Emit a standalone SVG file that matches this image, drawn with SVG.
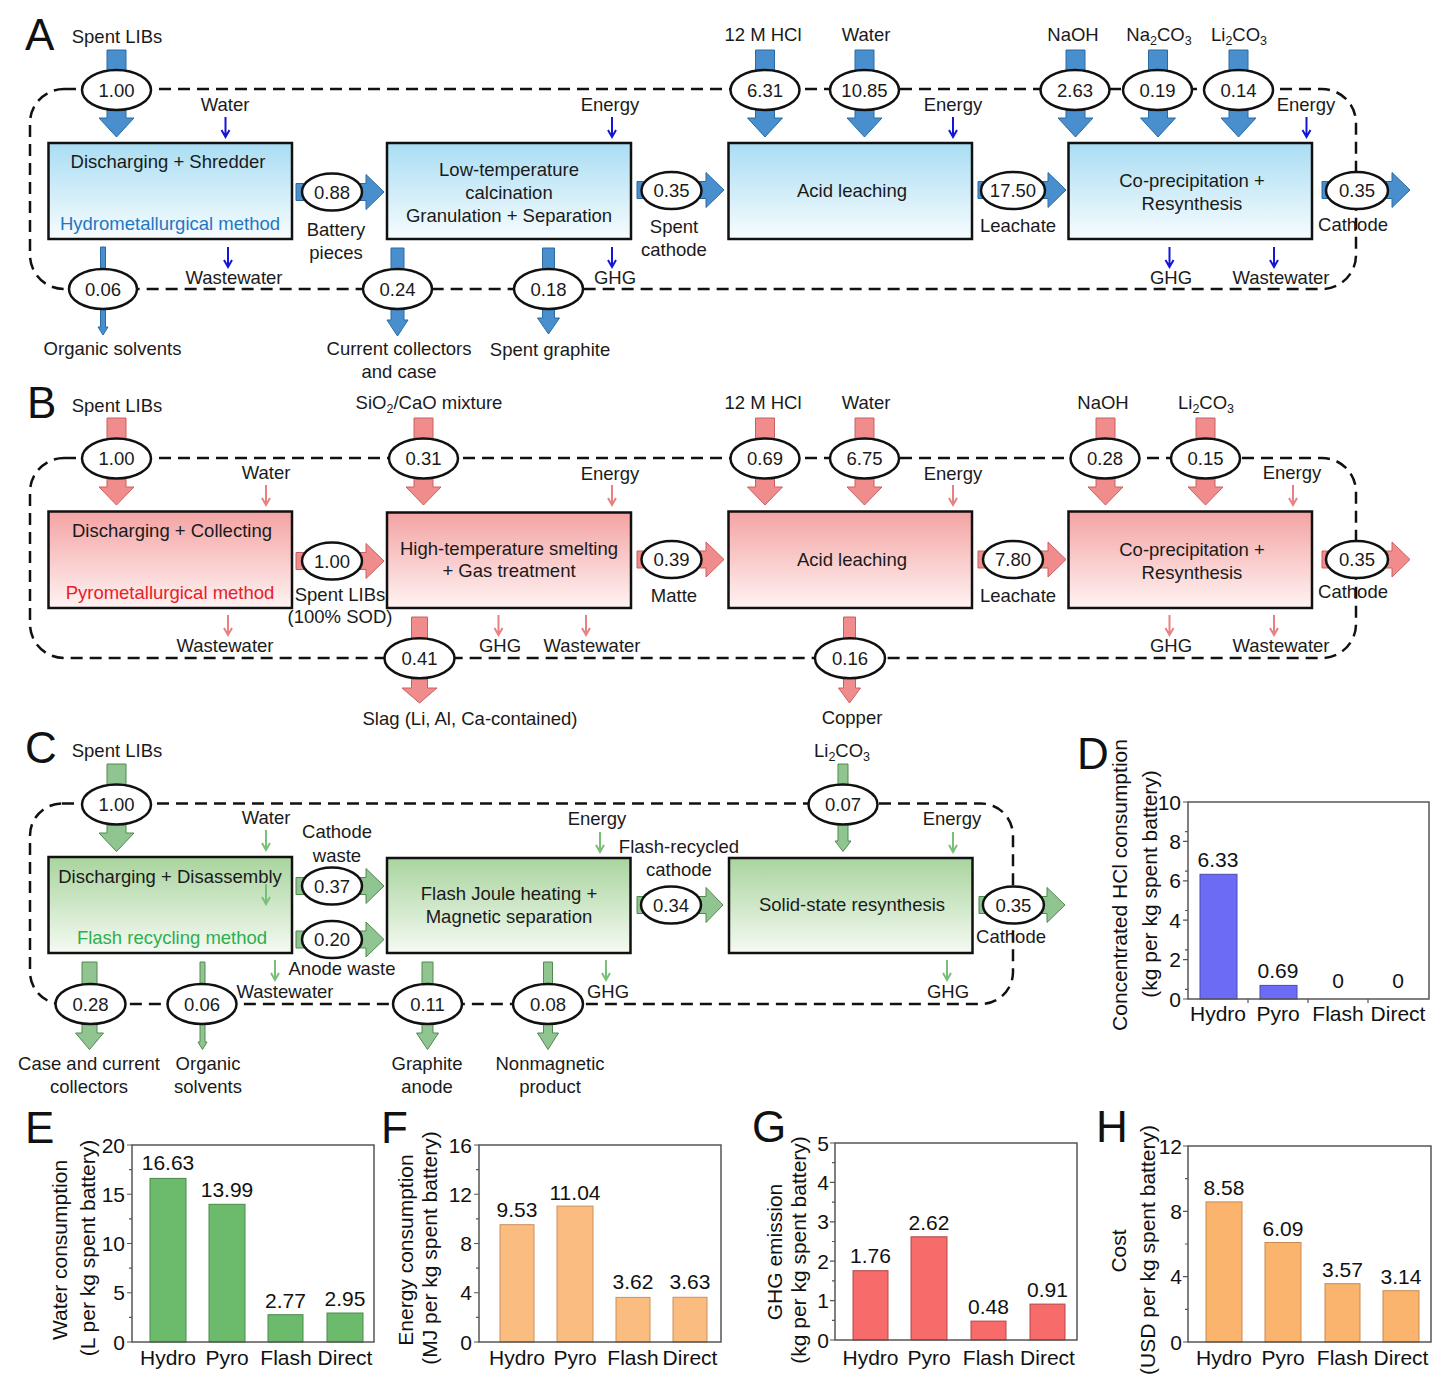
<svg xmlns="http://www.w3.org/2000/svg" xmlns:xlink="http://www.w3.org/1999/xlink" width="1438" height="1384" viewBox="0 0 1438 1384">
<style>
text{font-family:"Liberation Sans",Arial,Helvetica,sans-serif;fill:#1a1a1a}
.t{font-size:18.5px;text-anchor:middle}
.L{font-size:44px;text-anchor:start;fill:#111}
.ax{font-size:21px;text-anchor:middle;fill:#111}
.ay{font-size:21px;text-anchor:end;fill:#111}
.dash{fill:none;stroke:#111;stroke-width:2.5;stroke-dasharray:12 7}
.ell{fill:#fff;stroke:#111;stroke-width:2.5}
.box{stroke:#111;stroke-width:2.5}
.aA{fill:#4a8fcd;stroke:#2a6aa3;stroke-width:1}
.aB{fill:#f08c8c;stroke:#c86060;stroke-width:1}
.aC{fill:#90c490;stroke:#4f8a4f;stroke-width:1}
.sA{stroke:#1515d6;fill:none;stroke-width:2}
.sB{stroke:#e88282;fill:none;stroke-width:2}
.sC{stroke:#78c078;fill:none;stroke-width:2}
.frame{fill:none;stroke:#555;stroke-width:1.5}
.tk{stroke:#555;stroke-width:1.2}
.barD{fill:#6b6bf5;stroke:#4a4ab0;stroke-width:1}
.barE{fill:#6cba6c;stroke:#4a8a4a;stroke-width:1}
.barF{fill:#fbbc80;stroke:#c89060;stroke-width:1}
.barG{fill:#f76b6b;stroke:#b04848;stroke-width:1}
.barH{fill:#fbb46e;stroke:#c88a50;stroke-width:1}
</style>
<defs>
<linearGradient id="gA" x1="0" y1="0" x2="0" y2="1"><stop offset="0" stop-color="#a9ddf3"/><stop offset="1" stop-color="#f7fcfe"/></linearGradient>
<linearGradient id="gB" x1="0" y1="0" x2="0" y2="1"><stop offset="0" stop-color="#f4a3a3"/><stop offset="1" stop-color="#fff3f3"/></linearGradient>
<linearGradient id="gC" x1="0" y1="0" x2="0" y2="1"><stop offset="0" stop-color="#a9d49e"/><stop offset="1" stop-color="#f5faf3"/></linearGradient>
<path id="sa" d="M0,0 V20 M-4,13 L0,20 L4,13"/>
</defs>

<!-- Panel labels -->
<text class="L" x="25" y="50">A</text>
<text class="L" x="27" y="418">B</text>
<text class="L" x="25" y="763">C</text>
<text class="L" x="1077" y="769">D</text>
<text class="L" x="25" y="1143">E</text>
<text class="L" x="381" y="1143">F</text>
<text class="L" x="752" y="1142">G</text>
<text class="L" x="1096" y="1142">H</text>

<!-- ===== Connectors ===== -->
<g id="connectors">
<!-- system boundaries -->
<rect class="dash" x="30" y="89" width="1326" height="200" rx="34"/>
<rect class="dash" x="30" y="458" width="1326" height="200" rx="34"/>
<rect class="dash" x="30" y="803.5" width="983" height="200.5" rx="32"/>

<!-- A arrows -->
<g class="aA">
<path d="M107,50 H126 V118 H134 L116.5,137 L99,118 H107 Z"/>
<path d="M755.5,50 H774.5 V118 H782.5 L765,137 L747.5,118 H755.5 Z"/>
<path d="M855,50 H874 V118 H882 L864.5,137 L847,118 H855 Z"/>
<path d="M1066,50 H1085 V118 H1093 L1075.5,137 L1058,118 H1066 Z"/>
<path d="M1148.5,50 H1167.5 V118 H1175.5 L1158,137 L1140.5,118 H1148.5 Z"/>
<path d="M1229,50 H1248 V118 H1256 L1238.5,137 L1221,118 H1229 Z"/>
<path d="M100.5,247 H105.5 V327 H108 L103,335 L98,327 H100.5 Z"/>
<path d="M391,248 H404 V320 H408 L397.5,336 L387,320 H391 Z"/>
<path d="M542.5,248 H554.5 V318 H559.5 L548.5,334 L537.5,318 H542.5 Z"/>
<path d="M296,183.5 H366 V174.5 L384,192 L366,209.5 V200.5 H296 Z"/>
<path d="M637,181.5 H706 V172.5 L724,190 L706,207.5 V198.5 H637 Z"/>
<path d="M978,181.5 H1048 V172.5 L1066,190 L1048,207.5 V198.5 H978 Z"/>
<path d="M1322,181.5 H1392 V172.5 L1410,190 L1392,207.5 V198.5 H1322 Z"/>
</g>
<g class="sA">
<use xlink:href="#sa" x="225.5" y="117"/>
<use xlink:href="#sa" x="228" y="247"/>
<use xlink:href="#sa" x="612" y="117"/>
<use xlink:href="#sa" x="612" y="247"/>
<use xlink:href="#sa" x="953" y="117"/>
<use xlink:href="#sa" x="1306.5" y="117"/>
<use xlink:href="#sa" x="1169.5" y="247"/>
<use xlink:href="#sa" x="1274" y="247"/>
</g>

<!-- B arrows -->
<g class="aB">
<path d="M107,418 H126 V487 H134 L116.5,505 L99,487 H107 Z"/>
<path d="M414,418 H433 V487 H441 L423.5,505 L406,487 H414 Z"/>
<path d="M755.5,418 H774.5 V487 H782.5 L765,505 L747.5,487 H755.5 Z"/>
<path d="M855,418 H874 V487 H882 L864.5,505 L847,487 H855 Z"/>
<path d="M1096,418 H1115 V487 H1123 L1105.5,505 L1088,487 H1096 Z"/>
<path d="M1196,418 H1215 V487 H1223 L1205.5,505 L1188,487 H1196 Z"/>
<path d="M411.5,617 H427.5 V688 H437 L419.5,703 L402,688 H411.5 Z"/>
<path d="M843.5,617 H855.5 V688 H860.5 L849.5,703 L838.5,688 H843.5 Z"/>
<path d="M296,552.5 H366 V543.5 L384,561 L366,578.5 V569.5 H296 Z"/>
<path d="M637,551 H706 V542 L724,559.5 L706,577 V568 H637 Z"/>
<path d="M978,551 H1048 V542 L1066,559.5 L1048,577 V568 H978 Z"/>
<path d="M1322,551 H1392 V542 L1410,559.5 L1392,577 V568 H1322 Z"/>
</g>
<g class="sB">
<use xlink:href="#sa" x="266" y="485"/>
<use xlink:href="#sa" x="228" y="615"/>
<use xlink:href="#sa" x="612" y="485"/>
<use xlink:href="#sa" x="498.5" y="615"/>
<use xlink:href="#sa" x="586" y="615"/>
<use xlink:href="#sa" x="953" y="485"/>
<use xlink:href="#sa" x="1293" y="485"/>
<use xlink:href="#sa" x="1169.5" y="615"/>
<use xlink:href="#sa" x="1274" y="615"/>
</g>

<!-- C arrows -->
<g class="aC">
<path d="M107,764 H126 V833 H134 L116.5,851.5 L99,833 H107 Z"/>
<path d="M838,764 H848 V841 H851 L843,851.5 L835,841 H838 Z"/>
<path d="M82,962 H97 V1033 H103.5 L89.5,1049.5 L75.5,1033 H82 Z"/>
<path d="M200,962 H205 V1042 H207 L202.5,1049.5 L198,1042 H200 Z"/>
<path d="M422,962 H433 V1033 H438.5 L427.5,1049.5 L416.5,1033 H422 Z"/>
<path d="M543.5,962 H552.5 V1033 H558.5 L548,1049.5 L537.5,1033 H543.5 Z"/>
<path d="M296,877.5 H366 V868.5 L384,886 L366,903.5 V894.5 H296 Z"/>
<path d="M296,931 H366 V922 L384,939.5 L366,957 V948 H296 Z"/>
<path d="M637,896.5 H706 V887.5 L723,905 L706,922.5 V913.5 H637 Z"/>
<path d="M979,896.5 H1047 V887.5 L1065,905 L1047,922.5 V913.5 H979 Z"/>
</g>
<g class="sC">
<use xlink:href="#sa" x="266" y="830"/>
<use xlink:href="#sa" x="275" y="960"/>
<use xlink:href="#sa" x="600" y="832"/>
<use xlink:href="#sa" x="606" y="960"/>
<use xlink:href="#sa" x="953" y="832"/>
<use xlink:href="#sa" x="947" y="960"/>
</g>
</g>

<!-- ===== Flow value ellipses ===== -->
<g id="flows">
<g class="ell">
<ellipse cx="116.5" cy="90" rx="34.5" ry="20"/>
<ellipse cx="765" cy="90" rx="34.5" ry="20"/>
<ellipse cx="864.5" cy="90" rx="34.5" ry="20"/>
<ellipse cx="1075" cy="90" rx="34.5" ry="20"/>
<ellipse cx="1157.5" cy="90" rx="34.5" ry="20"/>
<ellipse cx="1238.5" cy="90" rx="34.5" ry="20"/>
<ellipse cx="103" cy="289" rx="34" ry="20"/>
<ellipse cx="397.5" cy="289" rx="34.5" ry="20"/>
<ellipse cx="548.5" cy="289" rx="34.5" ry="20"/>
<ellipse cx="332" cy="192" rx="30" ry="18.5"/>
<ellipse cx="671.5" cy="190.5" rx="30" ry="18.5"/>
<ellipse cx="1013" cy="190.5" rx="32" ry="18.5"/>
<ellipse cx="1357" cy="190.5" rx="31" ry="18.5"/>

<ellipse cx="116.5" cy="458.5" rx="34.5" ry="20"/>
<ellipse cx="423.5" cy="458.5" rx="34.5" ry="20"/>
<ellipse cx="765" cy="458.5" rx="34.5" ry="20"/>
<ellipse cx="864.5" cy="458.5" rx="34.5" ry="20"/>
<ellipse cx="1105" cy="458.5" rx="34.5" ry="20"/>
<ellipse cx="1205.5" cy="458.5" rx="34.5" ry="20"/>
<ellipse cx="419.5" cy="658.3" rx="35" ry="20"/>
<ellipse cx="850" cy="658.3" rx="35" ry="20"/>
<ellipse cx="332" cy="561" rx="30" ry="18.5"/>
<ellipse cx="671.5" cy="559.5" rx="30" ry="18.5"/>
<ellipse cx="1013" cy="559.5" rx="30" ry="18.5"/>
<ellipse cx="1357" cy="559.5" rx="31" ry="18.5"/>

<ellipse cx="116.5" cy="804.5" rx="34.5" ry="20"/>
<ellipse cx="843" cy="804.5" rx="34.5" ry="20"/>
<ellipse cx="90.5" cy="1004" rx="35" ry="20"/>
<ellipse cx="202" cy="1004" rx="34.5" ry="20"/>
<ellipse cx="427.5" cy="1004" rx="34.5" ry="20"/>
<ellipse cx="548" cy="1004" rx="35" ry="20"/>
<ellipse cx="332" cy="886" rx="30" ry="18.5"/>
<ellipse cx="332" cy="939.5" rx="30" ry="18.5"/>
<ellipse cx="671" cy="905" rx="30" ry="18.5"/>
<ellipse cx="1013.4" cy="905" rx="30.5" ry="18.5"/>
</g>
<g class="t">
<text class="t" x="116.5" y="96.5">1.00</text>
<text class="t" x="765" y="96.5">6.31</text>
<text class="t" x="864.5" y="96.5">10.85</text>
<text class="t" x="1075" y="96.5">2.63</text>
<text class="t" x="1157.5" y="96.5">0.19</text>
<text class="t" x="1238.5" y="96.5">0.14</text>
<text class="t" x="103" y="295.5">0.06</text>
<text class="t" x="397.5" y="295.5">0.24</text>
<text class="t" x="548.5" y="295.5">0.18</text>
<text class="t" x="332" y="198.5">0.88</text>
<text class="t" x="671.5" y="197">0.35</text>
<text class="t" x="1013" y="197">17.50</text>
<text class="t" x="1357" y="197">0.35</text>

<text class="t" x="116.5" y="465">1.00</text>
<text class="t" x="423.5" y="465">0.31</text>
<text class="t" x="765" y="465">0.69</text>
<text class="t" x="864.5" y="465">6.75</text>
<text class="t" x="1105" y="465">0.28</text>
<text class="t" x="1205.5" y="465">0.15</text>
<text class="t" x="419.5" y="664.8">0.41</text>
<text class="t" x="850" y="664.8">0.16</text>
<text class="t" x="332" y="567.5">1.00</text>
<text class="t" x="671.5" y="566">0.39</text>
<text class="t" x="1013" y="566">7.80</text>
<text class="t" x="1357" y="566">0.35</text>

<text class="t" x="116.5" y="811">1.00</text>
<text class="t" x="843" y="811">0.07</text>
<text class="t" x="90.5" y="1010.5">0.28</text>
<text class="t" x="202" y="1010.5">0.06</text>
<text class="t" x="427.5" y="1010.5">0.11</text>
<text class="t" x="548" y="1010.5">0.08</text>
<text class="t" x="332" y="892.5">0.37</text>
<text class="t" x="332" y="946">0.20</text>
<text class="t" x="671" y="911.5">0.34</text>
<text class="t" x="1013.4" y="911.5">0.35</text>
</g>
</g>

<!-- ===== Process nodes ===== -->
<g id="A-discharging">
<rect class="box" x="48.5" y="143" width="243.5" height="96" fill="url(#gA)"/>
<text class="t" x="168" y="168">Discharging + Shredder</text>
<text class="t" x="170" y="230" style="fill:#1f77c4">Hydrometallurgical method</text>
</g>
<g id="A-calcination">
<rect class="box" x="387" y="143" width="244" height="96" fill="url(#gA)"/>
<text class="t" x="509" y="176">Low-temperature</text>
<text class="t" x="509" y="199">calcination</text>
<text class="t" x="509" y="222">Granulation + Separation</text>
</g>
<g id="A-leaching">
<rect class="box" x="728.5" y="143" width="243.5" height="96" fill="url(#gA)"/>
<text class="t" x="852" y="197">Acid leaching</text>
</g>
<g id="A-resynthesis">
<rect class="box" x="1068.5" y="143" width="243.5" height="96" fill="url(#gA)"/>
<text class="t" x="1192" y="187">Co-precipitation +</text>
<text class="t" x="1192" y="209.5">Resynthesis</text>
</g>

<g id="B-discharging">
<rect class="box" x="48.5" y="511.5" width="243.5" height="96.5" fill="url(#gB)"/>
<text class="t" x="172" y="537">Discharging + Collecting</text>
<text class="t" x="170" y="598.5" style="fill:#e8202a">Pyrometallurgical method</text>
</g>
<g id="B-smelting">
<rect class="box" x="387" y="512.5" width="244" height="95.5" fill="url(#gB)"/>
<text class="t" x="509" y="554.5">High-temperature smelting</text>
<text class="t" x="509" y="577">+ Gas treatment</text>
</g>
<g id="B-leaching">
<rect class="box" x="728.5" y="511.5" width="243.5" height="96.5" fill="url(#gB)"/>
<text class="t" x="852" y="565.5">Acid leaching</text>
</g>
<g id="B-resynthesis">
<rect class="box" x="1068.5" y="511.5" width="243.5" height="96.5" fill="url(#gB)"/>
<text class="t" x="1192" y="556">Co-precipitation +</text>
<text class="t" x="1192" y="578.5">Resynthesis</text>
</g>

<g id="C-discharging">
<rect class="box" x="48.5" y="857" width="243.5" height="96" fill="url(#gC)"/>
<text class="t" x="170" y="883">Discharging + Disassembly</text>
<text class="t" x="172" y="943.5" style="fill:#2fae4f">Flash recycling method</text>
</g>
<g class="sC"><use xlink:href="#sa" x="266" y="884"/></g>
<g id="C-flash">
<rect class="box" x="387" y="858" width="243.5" height="95" fill="url(#gC)"/>
<text class="t" x="509" y="899.5">Flash Joule heating +</text>
<text class="t" x="509" y="923">Magnetic separation</text>
</g>
<g id="C-solid">
<rect class="box" x="729" y="858" width="243.5" height="95" fill="url(#gC)"/>
<text class="t" x="852" y="910.5">Solid-state resynthesis</text>
</g>

<!-- ===== Flow labels ===== -->
<g id="labels-A">
<text class="t" x="117" y="43">Spent LIBs</text>
<text class="t" x="225" y="111">Water</text>
<text class="t" x="234" y="284">Wastewater</text>
<text class="t" x="112.5" y="355">Organic solvents</text>
<text class="t" x="336" y="236">Battery</text>
<text class="t" x="336" y="259">pieces</text>
<text class="t" x="610" y="111">Energy</text>
<text class="t" x="615" y="284">GHG</text>
<text class="t" x="399" y="355">Current collectors</text>
<text class="t" x="399" y="378">and case</text>
<text class="t" x="550" y="356">Spent graphite</text>
<text class="t" x="674" y="233">Spent</text>
<text class="t" x="674" y="256">cathode</text>
<text class="t" x="763" y="41">12 M HCl</text>
<text class="t" x="866" y="41">Water</text>
<text class="t" x="953" y="111">Energy</text>
<text class="t" x="1018" y="232">Leachate</text>
<text class="t" x="1073" y="41">NaOH</text>
<text class="t" x="1159" y="41">Na<tspan font-size="12.5" dy="4">2</tspan><tspan dy="-4">CO</tspan><tspan font-size="12.5" dy="4">3</tspan></text>
<text class="t" x="1239" y="41">Li<tspan font-size="12.5" dy="4">2</tspan><tspan dy="-4">CO</tspan><tspan font-size="12.5" dy="4">3</tspan></text>
<text class="t" x="1306" y="111">Energy</text>
<text class="t" x="1171" y="284">GHG</text>
<text class="t" x="1281" y="284">Wastewater</text>
<text class="t" x="1353" y="231">Cathode</text>
</g>
<g id="labels-B">
<text class="t" x="117" y="412">Spent LIBs</text>
<text class="t" x="266" y="479">Water</text>
<text class="t" x="225" y="652">Wastewater</text>
<text class="t" x="340" y="601">Spent LIBs</text>
<text class="t" x="340" y="623">(100% SOD)</text>
<text class="t" x="429" y="409">SiO<tspan font-size="12.5" dy="4">2</tspan><tspan dy="-4">/CaO mixture</tspan></text>
<text class="t" x="610" y="480">Energy</text>
<text class="t" x="500" y="652">GHG</text>
<text class="t" x="592" y="652">Wastewater</text>
<text class="t" x="470" y="725">Slag (Li, Al, Ca-contained)</text>
<text class="t" x="674" y="602">Matte</text>
<text class="t" x="763" y="409">12 M HCl</text>
<text class="t" x="866" y="409">Water</text>
<text class="t" x="953" y="480">Energy</text>
<text class="t" x="852" y="724">Copper</text>
<text class="t" x="1018" y="602">Leachate</text>
<text class="t" x="1103" y="409">NaOH</text>
<text class="t" x="1206" y="409">Li<tspan font-size="12.5" dy="4">2</tspan><tspan dy="-4">CO</tspan><tspan font-size="12.5" dy="4">3</tspan></text>
<text class="t" x="1292" y="479">Energy</text>
<text class="t" x="1171" y="652">GHG</text>
<text class="t" x="1281" y="652">Wastewater</text>
<text class="t" x="1353" y="598">Cathode</text>
</g>
<g id="labels-C">
<text class="t" x="117" y="757">Spent LIBs</text>
<text class="t" x="266" y="824">Water</text>
<text class="t" x="337" y="838">Cathode</text>
<text class="t" x="337" y="862">waste</text>
<text class="t" x="342" y="975">Anode waste</text>
<text class="t" x="285" y="998">Wastewater</text>
<text class="t" x="89" y="1070">Case and current</text>
<text class="t" x="89" y="1093">collectors</text>
<text class="t" x="208" y="1070">Organic</text>
<text class="t" x="208" y="1093">solvents</text>
<text class="t" x="597" y="825">Energy</text>
<text class="t" x="679" y="853">Flash-recycled</text>
<text class="t" x="679" y="876">cathode</text>
<text class="t" x="608" y="998">GHG</text>
<text class="t" x="427" y="1070">Graphite</text>
<text class="t" x="427" y="1093">anode</text>
<text class="t" x="550" y="1070">Nonmagnetic</text>
<text class="t" x="550" y="1093">product</text>
<text class="t" x="842" y="757">Li<tspan font-size="12.5" dy="4">2</tspan><tspan dy="-4">CO</tspan><tspan font-size="12.5" dy="4">3</tspan></text>
<text class="t" x="952" y="825">Energy</text>
<text class="t" x="948" y="998">GHG</text>
<text class="t" x="1011" y="943">Cathode</text>
</g>

<!-- ===== Chart D ===== -->
<g id="chartD">
<rect class="barD" x="1200" y="874.3" width="37" height="124.7"/>
<rect class="barD" x="1260" y="985.4" width="37" height="13.6"/>
<rect class="frame" x="1188" y="802" width="241" height="197"/>
<path class="tk" d="M1183,999H1188M1183,959.6H1188M1183,920.2H1188M1183,880.8H1188M1183,841.4H1188M1183,802H1188M1185,989.3H1188M1185,949.9H1188M1185,910.5H1188M1185,871.1H1188M1185,831.7H1188M1248,999V1003M1308,999V1003M1368,999V1003"/>
<text class="ay" x="1181" y="1006.5">0</text>
<text class="ay" x="1181" y="967">2</text>
<text class="ay" x="1181" y="927.7">4</text>
<text class="ay" x="1181" y="888.3">6</text>
<text class="ay" x="1181" y="849">8</text>
<text class="ay" x="1181" y="809.5">10</text>
<text class="ax" x="1218" y="1021">Hydro</text>
<text class="ax" x="1278" y="1021">Pyro</text>
<text class="ax" x="1338" y="1021">Flash</text>
<text class="ax" x="1398" y="1021">Direct</text>
<text class="ax" x="1218" y="867">6.33</text>
<text class="ax" x="1278" y="978">0.69</text>
<text class="ax" x="1338" y="988">0</text>
<text class="ax" x="1398" y="988">0</text>
<text class="ax" transform="translate(1127,885) rotate(-90)">Concentrated HCl consumption</text>
<text class="ax" transform="translate(1157,884) rotate(-90)">(kg per kg spent battery)</text>
</g>

<!-- ===== Chart E ===== -->
<g id="chartE">
<rect class="barE" x="150" y="1178.4" width="36" height="163.6"/>
<rect class="barE" x="209" y="1204.3" width="36" height="137.7"/>
<rect class="barE" x="268" y="1314.7" width="35" height="27.3"/>
<rect class="barE" x="327" y="1313" width="36" height="29"/>
<rect class="frame" x="132" y="1145" width="242" height="197"/>
<path class="tk" d="M127,1342H132M127,1292.75H132M127,1243.5H132M127,1194.25H132M127,1145H132M129,1317.4H132M129,1268.1H132M129,1218.9H132M129,1169.6H132"/>
<text class="ay" x="125" y="1349.5">0</text>
<text class="ay" x="125" y="1300">5</text>
<text class="ay" x="125" y="1251">10</text>
<text class="ay" x="125" y="1201.7">15</text>
<text class="ay" x="125" y="1152.5">20</text>
<text class="ax" x="168" y="1365">Hydro</text>
<text class="ax" x="227" y="1365">Pyro</text>
<text class="ax" x="286" y="1365">Flash</text>
<text class="ax" x="345" y="1365">Direct</text>
<text class="ax" x="168" y="1170">16.63</text>
<text class="ax" x="227" y="1197">13.99</text>
<text class="ax" x="285.5" y="1308">2.77</text>
<text class="ax" x="345" y="1306">2.95</text>
<text class="ax" transform="translate(67,1250) rotate(-90)">Water consumption</text>
<text class="ax" transform="translate(95,1248) rotate(-90)">(L per kg spent battery)</text>
</g>

<!-- ===== Chart F ===== -->
<g id="chartF">
<rect class="barF" x="500" y="1224.7" width="34" height="117.3"/>
<rect class="barF" x="557" y="1206.1" width="36" height="135.9"/>
<rect class="barF" x="616" y="1297.4" width="34" height="44.6"/>
<rect class="barF" x="673" y="1297.3" width="34" height="44.7"/>
<rect class="frame" x="479" y="1145" width="242" height="197"/>
<path class="tk" d="M474,1342H479M474,1292.75H479M474,1243.5H479M474,1194.25H479M474,1145H479M476,1317.4H479M476,1268.1H479M476,1218.9H479M476,1169.6H479"/>
<text class="ay" x="472" y="1349.5">0</text>
<text class="ay" x="472" y="1300">4</text>
<text class="ay" x="472" y="1251">8</text>
<text class="ay" x="472" y="1201.7">12</text>
<text class="ay" x="472" y="1152.5">16</text>
<text class="ax" x="517" y="1365">Hydro</text>
<text class="ax" x="575" y="1365">Pyro</text>
<text class="ax" x="633" y="1365">Flash</text>
<text class="ax" x="690" y="1365">Direct</text>
<text class="ax" x="517" y="1217">9.53</text>
<text class="ax" x="575" y="1200">11.04</text>
<text class="ax" x="633" y="1289">3.62</text>
<text class="ax" x="690" y="1289">3.63</text>
<text class="ax" transform="translate(413,1250) rotate(-90)">Energy consumption</text>
<text class="ax" transform="translate(437,1248) rotate(-90)">(MJ per kg spent battery)</text>
</g>

<!-- ===== Chart G ===== -->
<g id="chartG">
<rect class="barG" x="853" y="1270.7" width="35" height="69.3"/>
<rect class="barG" x="911" y="1236.8" width="36" height="103.2"/>
<rect class="barG" x="971" y="1321.1" width="35" height="18.9"/>
<rect class="barG" x="1030" y="1304.1" width="35" height="35.9"/>
<rect class="frame" x="835" y="1143" width="242" height="197"/>
<path class="tk" d="M830,1340H835M830,1300.6H835M830,1261.2H835M830,1221.8H835M830,1182.4H835M830,1143H835M832,1320.3H835M832,1280.9H835M832,1241.5H835M832,1202.1H835M832,1162.7H835"/>
<text class="ay" x="829" y="1347.5">0</text>
<text class="ay" x="829" y="1308">1</text>
<text class="ay" x="829" y="1268.7">2</text>
<text class="ay" x="829" y="1229.3">3</text>
<text class="ay" x="829" y="1190">4</text>
<text class="ay" x="829" y="1150.5">5</text>
<text class="ax" x="870.5" y="1365">Hydro</text>
<text class="ax" x="929" y="1365">Pyro</text>
<text class="ax" x="988.5" y="1365">Flash</text>
<text class="ax" x="1047.5" y="1365">Direct</text>
<text class="ax" x="870.5" y="1263">1.76</text>
<text class="ax" x="929" y="1230">2.62</text>
<text class="ax" x="988.5" y="1314">0.48</text>
<text class="ax" x="1047.5" y="1297">0.91</text>
<text class="ax" transform="translate(782,1252) rotate(-90)">GHG emission</text>
<text class="ax" transform="translate(806,1250) rotate(-90)">(kg per kg spent battery)</text>
</g>

<!-- ===== Chart H ===== -->
<g id="chartH">
<rect class="barH" x="1206" y="1201.9" width="36" height="140.1"/>
<rect class="barH" x="1265" y="1242.5" width="36" height="99.5"/>
<rect class="barH" x="1325" y="1283.7" width="35" height="58.3"/>
<rect class="barH" x="1383" y="1290.7" width="36" height="51.3"/>
<rect class="frame" x="1188" y="1146" width="243" height="196"/>
<path class="tk" d="M1183,1342H1188M1183,1276.7H1188M1183,1211.3H1188M1183,1146H1188M1185,1309.3H1188M1185,1244H1188M1185,1178.7H1188"/>
<text class="ay" x="1182" y="1349.5">0</text>
<text class="ay" x="1182" y="1284">4</text>
<text class="ay" x="1182" y="1218.8">8</text>
<text class="ay" x="1182" y="1153.5">12</text>
<text class="ax" x="1224" y="1365">Hydro</text>
<text class="ax" x="1283" y="1365">Pyro</text>
<text class="ax" x="1342.5" y="1365">Flash</text>
<text class="ax" x="1401" y="1365">Direct</text>
<text class="ax" x="1224" y="1195">8.58</text>
<text class="ax" x="1283" y="1236">6.09</text>
<text class="ax" x="1342.5" y="1277">3.57</text>
<text class="ax" x="1401" y="1284">3.14</text>
<text class="ax" transform="translate(1126,1251) rotate(-90)">Cost</text>
<text class="ax" transform="translate(1155,1250) rotate(-90)">(USD per kg spent battery)</text>
</g>
</svg>
